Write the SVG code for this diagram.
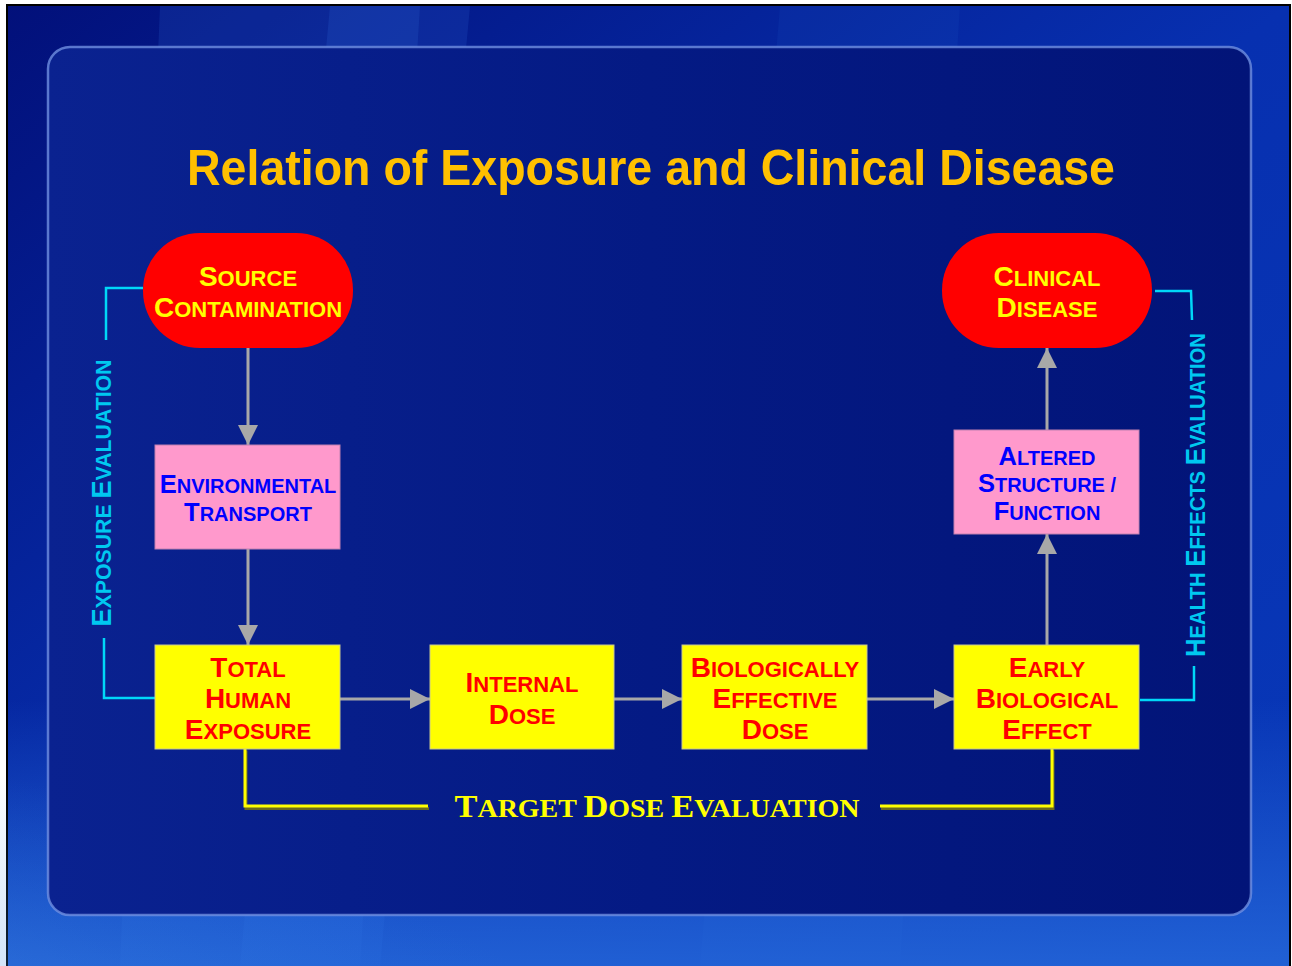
<svg xmlns="http://www.w3.org/2000/svg" width="1292" height="966" viewBox="0 0 1292 966">
<defs>
<linearGradient id="bg" x1="0" y1="0" x2="1" y2="1">
<stop offset="0" stop-color="#02107A"/>
<stop offset="0.5" stop-color="#0730B0"/>
<stop offset="1" stop-color="#0838B8"/>
</linearGradient>
<linearGradient id="botv" x1="0" y1="0" x2="0" y2="1">
<stop offset="0" stop-color="#2A70E0" stop-opacity="0"/>
<stop offset="1" stop-color="#2A70E0" stop-opacity="0.9"/>
</linearGradient>
<radialGradient id="glow" cx="0" cy="1" r="1">
<stop offset="0" stop-color="#70B0F0" stop-opacity="0.8"/>
<stop offset="1" stop-color="#3080E0" stop-opacity="0"/>
</radialGradient>
<linearGradient id="panel" x1="0" y1="0" x2="1" y2="0">
<stop offset="0" stop-color="#0A2290"/>
<stop offset="0.5" stop-color="#041A84"/>
<stop offset="1" stop-color="#021478"/>
</linearGradient>
<marker id="ah" viewBox="0 0 20 20" refX="20" refY="10" markerWidth="20" markerHeight="20" markerUnits="userSpaceOnUse" orient="auto">
<path d="M0,0 L20,10 L0,20 Z" fill="#A8A8A8"/>
</marker>
<style>
.L{font-size:28px}
.s{font-size:22px}
.bL{font-size:25.5px}
.bs{font-size:20px}
.nt{font-family:"Liberation Sans",Arial,sans-serif;font-weight:bold;text-anchor:middle}
.y{fill:#FFFF00}
.r{fill:#FF0000}
.b{fill:#0000FF}
.cy{fill:#00C8F0;font-family:"Liberation Sans",Arial,sans-serif;font-weight:bold;text-anchor:middle}
.cyl{fill:none;stroke:#00D8F8;stroke-width:2.5}
.arr{fill:none;stroke:#A8A8A8;stroke-width:3;marker-end:url(#ah)}
.ybox{fill:#FFFF00;stroke:#C8C890;stroke-width:1}
.pbox{fill:#FF99CC;stroke:#C080B0;stroke-width:1}
.red{fill:#FF0000}
</style>
</defs>
<rect x="0" y="0" width="1292" height="966" fill="#FFFFFF"/>
<rect x="7" y="5" width="1283" height="963" fill="url(#bg)" stroke="#000000" stroke-width="2"/>
<polygon points="160,6 420,6 360,966 120,966" fill="#3070E0" opacity="0.18"/>
<polygon points="330,6 470,6 380,966 240,966" fill="#3C80F0" opacity="0.15"/>
<polygon points="780,6 960,6 900,966 700,966" fill="#2060D0" opacity="0.12"/>
<rect x="8" y="700" width="1281" height="266" fill="url(#botv)" opacity="0.8"/>
<ellipse cx="8" cy="966" rx="700" ry="260" fill="url(#glow)"/>
<rect x="48" y="47" width="1203" height="868" rx="22" fill="url(#panel)" stroke="#6F8FE0" stroke-opacity="0.8" stroke-width="2.5"/>
<text x="651" y="185" font-family="'Liberation Sans',Arial,sans-serif" font-weight="bold" font-size="50" fill="#FFC000" text-anchor="middle" textLength="928" lengthAdjust="spacingAndGlyphs">Relation of Exposure and Clinical Disease</text>
<g id="connectors">
<line class="arr" x1="248" y1="348" x2="248" y2="445"/>
<line class="arr" x1="248" y1="549" x2="248" y2="645"/>
<line class="arr" x1="340" y1="699" x2="430" y2="699"/>
<line class="arr" x1="614" y1="699" x2="682" y2="699"/>
<line class="arr" x1="867" y1="699" x2="954" y2="699"/>
<line class="arr" x1="1047" y1="645" x2="1047" y2="534"/>
<line class="arr" x1="1047" y1="430" x2="1047" y2="348"/>
<polyline class="cyl" points="143,288 106,288 106,340"/>
<polyline class="cyl" points="104,638 104,698 155,698"/>
<polyline class="cyl" points="1155,291 1191,291 1192,320"/>
<polyline class="cyl" points="1194,666 1194,700 1140,700"/>
<polyline points="245,749 245,807 428,807" fill="none" stroke="#6A6A20" stroke-width="3" transform="translate(1,1.5)"/>
<polyline points="880,807 1052,807 1052,749" fill="none" stroke="#6A6A20" stroke-width="3" transform="translate(1,1.5)"/>
<polyline points="245,749 245,806 428,806" fill="none" stroke="#FFFF00" stroke-width="3"/>
<polyline points="880,806 1052,806 1052,749" fill="none" stroke="#FFFF00" stroke-width="3"/>
</g>
<g id="exposure-evaluation">
<text class="cy" transform="translate(111,493) rotate(-90)" textLength="267" lengthAdjust="spacingAndGlyphs"><tspan class="L">E</tspan><tspan class="s">XPOSURE </tspan><tspan class="L">E</tspan><tspan class="s">VALUATION</tspan></text>
</g>
<g id="health-effects-evaluation">
<text class="cy" transform="translate(1205,495) rotate(-90)" textLength="324" lengthAdjust="spacingAndGlyphs"><tspan class="L">H</tspan><tspan class="s">EALTH </tspan><tspan class="L">E</tspan><tspan class="s">FFECTS </tspan><tspan class="L">E</tspan><tspan class="s">VALUATION</tspan></text>
</g>
<g id="target-dose-evaluation">
<text x="657" y="817" font-family="'Liberation Serif','Times New Roman',serif" font-weight="bold" fill="#FFFF00" text-anchor="middle" textLength="405" lengthAdjust="spacingAndGlyphs"><tspan font-size="32">T</tspan><tspan font-size="26">ARGET </tspan><tspan font-size="32">D</tspan><tspan font-size="26">OSE </tspan><tspan font-size="32">E</tspan><tspan font-size="26">VALUATION</tspan></text>
</g>
<g id="source-contamination">
<rect class="red" x="143" y="233" width="210" height="115" rx="57" ry="57"/>
<text class="nt y" x="248" y="286"><tspan class="L">S</tspan><tspan class="s">OURCE</tspan></text>
<text class="nt y" x="248" y="317"><tspan class="L">C</tspan><tspan class="s">ONTAMINATION</tspan></text>
</g>
<g id="clinical-disease">
<rect class="red" x="942" y="233" width="210" height="115" rx="57" ry="57"/>
<text class="nt y" x="1047" y="286"><tspan class="L">C</tspan><tspan class="s">LINICAL</tspan></text>
<text class="nt y" x="1047" y="317"><tspan class="L">D</tspan><tspan class="s">ISEASE</tspan></text>
</g>
<g id="environmental-transport">
<rect class="pbox" x="155" y="445" width="185" height="104"/>
<text class="nt b" x="248" y="493"><tspan class="bL">E</tspan><tspan class="bs">NVIRONMENTAL</tspan></text>
<text class="nt b" x="248" y="521"><tspan class="bL">T</tspan><tspan class="bs">RANSPORT</tspan></text>
</g>
<g id="total-human-exposure">
<rect class="ybox" x="155" y="645" width="185" height="104"/>
<text class="nt r" x="248" y="677"><tspan class="L">T</tspan><tspan class="s">OTAL</tspan></text>
<text class="nt r" x="248" y="708"><tspan class="L">H</tspan><tspan class="s">UMAN</tspan></text>
<text class="nt r" x="248" y="739"><tspan class="L">E</tspan><tspan class="s">XPOSURE</tspan></text>
</g>
<g id="internal-dose">
<rect class="ybox" x="430" y="645" width="184" height="104"/>
<text class="nt r" x="522" y="692"><tspan class="L">I</tspan><tspan class="s">NTERNAL</tspan></text>
<text class="nt r" x="522" y="724"><tspan class="L">D</tspan><tspan class="s">OSE</tspan></text>
</g>
<g id="biologically-effective-dose">
<rect class="ybox" x="682" y="645" width="185" height="104"/>
<text class="nt r" x="775" y="677"><tspan class="L">B</tspan><tspan class="s">IOLOGICALLY</tspan></text>
<text class="nt r" x="775" y="708"><tspan class="L">E</tspan><tspan class="s">FFECTIVE</tspan></text>
<text class="nt r" x="775" y="739"><tspan class="L">D</tspan><tspan class="s">OSE</tspan></text>
</g>
<g id="early-biological-effect">
<rect class="ybox" x="954" y="645" width="185" height="104"/>
<text class="nt r" x="1047" y="677"><tspan class="L">E</tspan><tspan class="s">ARLY</tspan></text>
<text class="nt r" x="1047" y="708"><tspan class="L">B</tspan><tspan class="s">IOLOGICAL</tspan></text>
<text class="nt r" x="1047" y="739"><tspan class="L">E</tspan><tspan class="s">FFECT</tspan></text>
</g>
<g id="altered-structure-function">
<rect class="pbox" x="954" y="430" width="185" height="104"/>
<text class="nt b" x="1047" y="465"><tspan class="bL">A</tspan><tspan class="bs">LTERED</tspan></text>
<text class="nt b" x="1047" y="492"><tspan class="bL">S</tspan><tspan class="bs">TRUCTURE /</tspan></text>
<text class="nt b" x="1047" y="520"><tspan class="bL">F</tspan><tspan class="bs">UNCTION</tspan></text>
</g>
</svg>
